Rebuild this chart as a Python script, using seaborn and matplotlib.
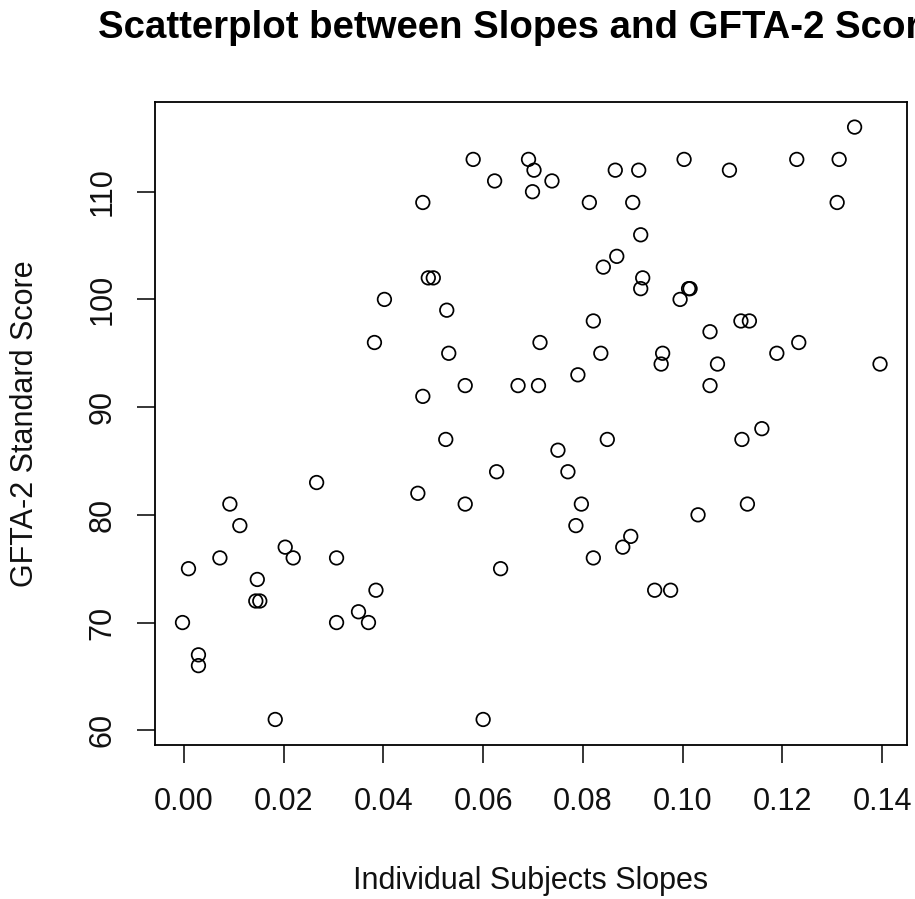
import matplotlib
matplotlib.use("Agg")
import matplotlib.pyplot as plt
import seaborn as sns
import pandas as pd

# Data
slopes = [
    -0.0003, 0.0009, 0.0029, 0.0029, 0.0072, 0.0092, 0.0112, 0.0147, 0.0144, 0.0152,
    0.0183, 0.0203, 0.0219, 0.0266, 0.0306, 0.0306, 0.0350, 0.0370, 0.0385, 0.0382,
    0.0402, 0.0469, 0.0479, 0.0479, 0.0490, 0.0500, 0.0525, 0.0527, 0.0531, 0.0564,
    0.0564, 0.0580, 0.0600, 0.0623, 0.0627, 0.0635, 0.0670, 0.0691, 0.0702, 0.0699,
    0.0711, 0.0714, 0.0738, 0.0750, 0.0770, 0.0786, 0.0790, 0.0797, 0.0813, 0.0821,
    0.0821, 0.0836, 0.0841, 0.0849, 0.0865, 0.0868, 0.0880, 0.0896, 0.0900, 0.0912,
    0.0916, 0.0920, 0.0916, 0.0944, 0.0957, 0.0960, 0.0976, 0.0995, 0.1003, 0.1012,
    0.1015, 0.1031, 0.1055, 0.1055, 0.1070, 0.1094, 0.1117, 0.1134, 0.1119, 0.1130,
    0.1159, 0.1189, 0.1229, 0.1233, 0.1310, 0.1314, 0.1345, 0.1396,
]
scores = [
    70, 75, 67, 66, 76, 81, 79, 74, 72, 72,
    61, 77, 76, 83, 76, 70, 71, 70, 73, 96,
    100, 82, 91, 109, 102, 102, 87, 99, 95, 81,
    92, 113, 61, 111, 84, 75, 92, 113, 112, 110,
    92, 96, 111, 86, 84, 79, 93, 81, 109, 98,
    76, 95, 103, 87, 112, 104, 77, 78, 109, 112,
    106, 102, 101, 73, 94, 95, 73, 100, 113, 101,
    101, 80, 97, 92, 94, 112, 98, 98, 87, 81,
    88, 95, 113, 96, 109, 113, 116, 94,
]
x_ticks = [0.00, 0.02, 0.04, 0.06, 0.08, 0.10, 0.12, 0.14]
x_tick_labels = ["0.00", "0.02", "0.04", "0.06", "0.08", "0.10", "0.12", "0.14"]
y_ticks = [60, 70, 80, 90, 100, 110]
y_tick_labels = ["60", "70", "80", "90", "100", "110"]

title = "Scatterplot between Slopes and GFTA-2 Scores"
x_label = "Individual Subjects Slopes"
y_label = "GFTA-2 Standard Score"

df = pd.DataFrame({"slope": slopes, "score": scores})

sns.set_style("white")
plt.rcParams["font.family"] = ["Liberation Sans", "DejaVu Sans"]

W, H = 915, 899
fig = plt.figure(figsize=(W / 100, H / 100), dpi=100)
ax = fig.add_axes([155 / W, (H - 745) / H, 752 / W, 643 / H])

sns.scatterplot(data=df, x="slope", y="score", ax=ax, s=95,
                facecolor="none", edgecolor="black", linewidth=1.25, marker="o")

ax.set_xlim(-0.005816, 0.14501)
ax.set_ylim(58.63, 118.33)
ax.set_xticks(x_ticks)
ax.set_xticklabels(x_tick_labels)
ax.set_yticks(y_ticks)
ax.set_yticklabels(y_tick_labels)

for sp in ax.spines.values():
    sp.set_visible(True)
    sp.set_color("black")
    sp.set_linewidth(1.3)

ax.tick_params(axis="both", which="major", direction="out", length=13, width=1.1,
               color="black", labelsize=22, labelcolor="#111111",
               bottom=True, left=True)
ax.tick_params(axis="x", pad=17)
ax.tick_params(axis="y", pad=14, labelrotation=90)
for lab in ax.get_yticklabels():
    lab.set_va("center")

ax.set_xlabel(x_label, fontsize=22, color="#111111")
ax.xaxis.set_label_coords(0.5, (745 - 889) / 643)
ax.xaxis.label.set_va("baseline")
ax.set_ylabel(y_label, fontsize=22, color="#111111")
ax.yaxis.set_label_coords((25 - 155) / 752, 0.5)
ax.yaxis.label.set_va("center")

# Title is wider than the figure in the reference and is clipped at the right edge
fig.text(98 / W, 1 - 38 / H, title, ha="left", va="baseline",
         fontsize=27.6, fontweight="bold", color="black")

fig.savefig("out.png", dpi=100)
